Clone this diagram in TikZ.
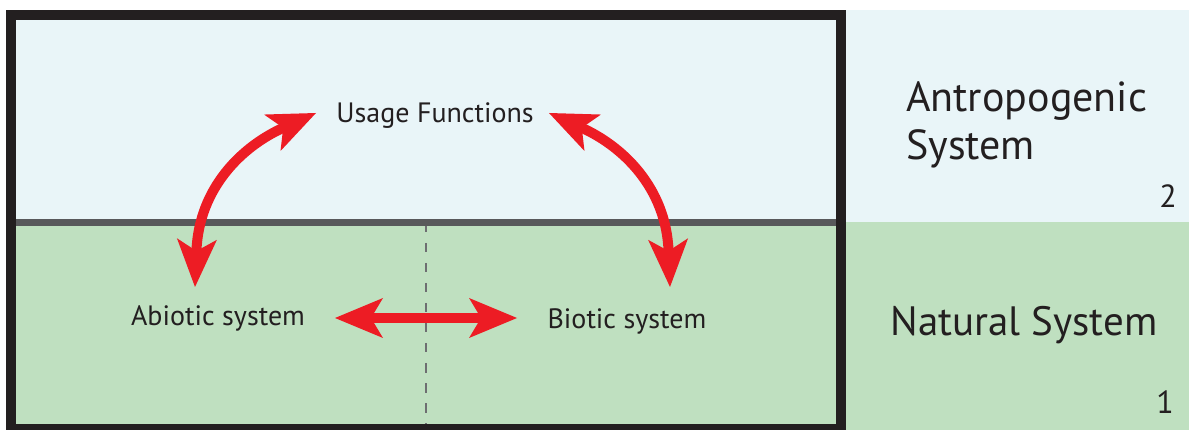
\documentclass[tikz,border=0pt]{standalone}
\usepackage{fontspec}
\setmainfont{PT Sans}
\usetikzlibrary{arrows.meta}

\definecolor{skypale}{RGB}{233,245,248}
\definecolor{meadow}{RGB}{191,224,192}
\definecolor{frame}{RGB}{35,31,32}
\definecolor{divider}{RGB}{88,89,91}
\definecolor{dashgray}{RGB}{109,110,113}
\definecolor{arrowred}{RGB}{237,28,36}

\tikzset{
  bigtip/.tip={Stealth[length=48pt,width=40pt,inset=12pt,line width=0pt]},
  relation/.style={draw=arrowred,line width=10pt,{bigtip}-{bigtip}},
  label/.style={text=frame,inner sep=0pt,anchor=base,font=\fontsize{28}{34}\selectfont},
  biglabel/.style={text=frame,inner sep=0pt,font=\fontsize{42}{48}\selectfont},
  numlabel/.style={text=frame,inner sep=0pt,anchor=base east,font=\fontsize{32}{36}\selectfont}
}

\begin{document}
\begin{tikzpicture}[x=1pt,y=-1pt]
  \useasboundingbox (0,0) rectangle (1189,430);

  % layer fills
  \fill[skypale] (11,15) rectangle (840,222);
  \fill[meadow]  (11,222) rectangle (840,430);
  \fill[skypale] (845,10) rectangle (1189,222);
  \fill[meadow]  (845,222) rectangle (1189,430);

  % boundary between biotic and abiotic parts
  \coordinate (dtop) at (426,223);
  \coordinate (dbot) at (426,430);
  \draw[dashgray,line width=2.6pt,dash pattern=on 9.5pt off 10.5pt] (dtop) -- (dbot);

  % boundary between the two systems
  \coordinate (hl) at (16,222.5);
  \coordinate (hr) at (841,222.5);
  \draw[divider,line width=7pt] (hl) -- (hr);

  % outer frame
  \draw[frame,line width=10pt] (11,15) rectangle (840.5,429);

  % texts
  \node[label] (usage) at (435,123) {Usage Functions};
  \node[label] (abiotic) at (218,326) {Abiotic system};
  \node[label] (biotic) at (627,329) {Biotic system};

  \node[biglabel,anchor=base west] (antro) at (906,112) {Antropogenic};
  \node[biglabel,anchor=base west] (antro2) at (906,160) {System};
  \node[biglabel,anchor=base,font=\fontsize{41}{48}\selectfont] (natural) at (1024,336) {Natural System};
  \node[numlabel] (two) at (1177,208) {2};
  \node[numlabel] (one) at (1174,413) {1};

  % interactions
  \coordinate (ul) at (316,113);
  \coordinate (ur) at (549,113);
  \coordinate (al) at (195,287);
  \coordinate (br) at (670,287);
  \coordinate (ha) at (335,318);
  \coordinate (hb) at (517,318);

  \draw[relation] (ul) .. controls (243,146) and (199,187) .. (al);
  \draw[relation] (ur) .. controls (622,146) and (666,187) .. (br);
  \draw[relation] (ha) -- (hb);
\end{tikzpicture}
\end{document}
